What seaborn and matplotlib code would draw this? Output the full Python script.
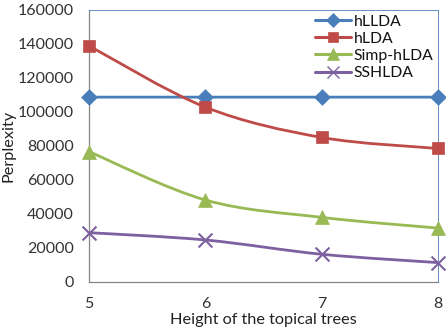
import numpy as np
import matplotlib
matplotlib.use("Agg")
import matplotlib.pyplot as plt
from matplotlib.path import Path
from matplotlib.patches import PathPatch
from matplotlib.lines import Line2D
import seaborn as sns

# data
heights = [5, 6, 7, 8]
hllda = [108700, 108700, 108700, 108700]
hlda = [138800, 102800, 85000, 78500]
simp_hlda = [76600, 48200, 38000, 31700]
sshlda = [29000, 24700, 16300, 11400]

series = [
    ("hLLDA", hllda, "#4A7EBB", "D", 8),
    ("hLDA", hlda, "#BE4B48", "s", 9),
    ("Simp-hLDA", simp_hlda, "#98B954", "^", 10),
    ("SSHLDA", sshlda, "#7D60A0", "x", 10),
]

sns.set_style("white")
plt.rcParams["font.family"] = ["Lato", "DejaVu Sans"]

fig = plt.figure(figsize=(4.46, 3.30), dpi=100)
ax = fig.add_axes([0.2, 0.1455, 0.782, 0.8245])


def smooth_path(xs, ys):
    # Excel style smoothed line: cubic bezier through the points
    pts = np.column_stack([xs, ys]).astype(float)
    ext = np.vstack([pts[0], pts, pts[-1]])
    verts = [tuple(pts[0])]
    codes = [Path.MOVETO]
    for i in range(len(pts) - 1):
        p0, p1, p2, p3 = ext[i], ext[i + 1], ext[i + 2], ext[i + 3]
        c1 = p1 + (p2 - p0) / 6.0
        c2 = p2 - (p3 - p1) / 6.0
        verts += [tuple(c1), tuple(c2), tuple(p2)]
        codes += [Path.CURVE4] * 3
    return Path(verts, codes)


handles = []
for name, vals, color, marker, ms in series:
    patch = PathPatch(smooth_path(heights, vals), facecolor="none",
                      edgecolor=color, lw=2.0, zorder=2, capstyle="round")
    ax.add_patch(patch)
    sns.scatterplot(x=heights, y=vals, marker=marker, s=ms ** 2, color=color,
                    edgecolor=color if marker != "x" else None,
                    linewidth=1.5 if marker == "x" else 0.5,
                    ax=ax, zorder=3, clip_on=False, legend=False)
    handles.append(Line2D([0], [0], color=color, lw=2.2, marker=marker,
                          markersize=ms * 0.85, markeredgewidth=1.0 if marker == "x" else 0.5,
                          label=name))

ax.set_xlim(5, 8)
ax.set_ylim(0, 160000)
ax.set_xticks(heights)
ax.set_yticks(np.arange(0, 160001, 20000))
ax.tick_params(axis="both", labelsize=11.5, colors="#333333", length=4,
               width=0.8, direction="out")
ax.tick_params(axis="y", pad=7)
ax.tick_params(axis="x", pad=7)
ax.tick_params(axis="both", color="#868686")
ax.yaxis.set_major_formatter(matplotlib.ticker.FuncFormatter(lambda v, p: f"{int(v)}"))

for side in ["left", "bottom"]:
    ax.spines[side].set_color("#868686")
    ax.spines[side].set_linewidth(0.9)
for side in ["top", "right"]:
    ax.spines[side].set_color("#4A7EBB")
    ax.spines[side].set_linewidth(0.6)

ax.set_xlabel("Height of the topical trees", fontsize=11.7, color="#222222", labelpad=1)
ax.set_ylabel("Perplexity", fontsize=11.7, color="#222222", labelpad=2)

leg = ax.legend(handles=handles, loc="upper right", bbox_to_anchor=(1.0, 1.0),
                frameon=False, fontsize=11.3, handlelength=2.3, handletextpad=0.15,
                labelspacing=0.2, borderaxespad=0.1, borderpad=0.2)
for t in leg.get_texts():
    t.set_color("#111111")

fig.savefig("out.png", dpi=100)
